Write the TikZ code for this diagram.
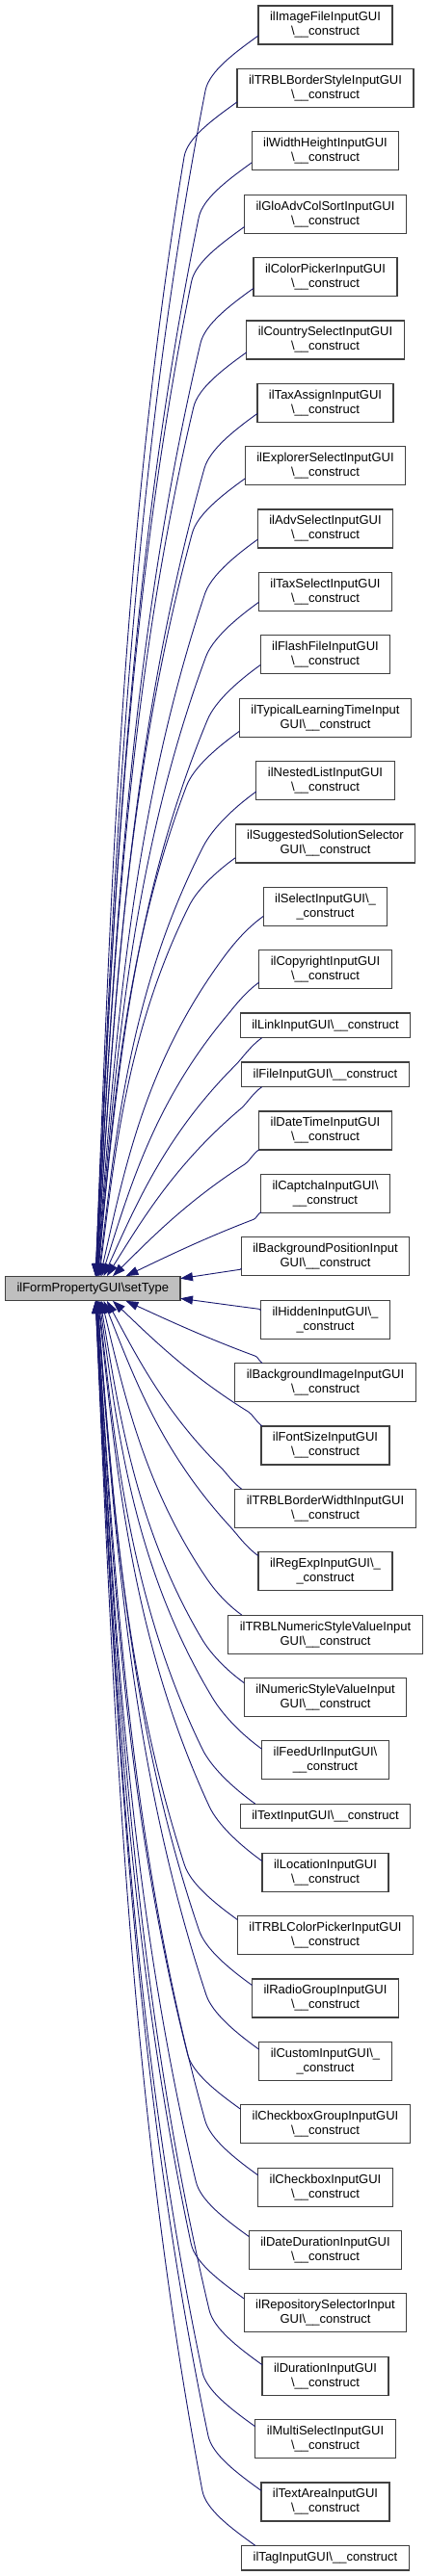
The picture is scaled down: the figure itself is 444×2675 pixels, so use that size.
\documentclass[tikz,border=0pt]{standalone}
\usepackage{fontspec}
\setmainfont{Liberation Sans}
\usetikzlibrary{arrows.meta,calc}
\newcommand\BS{\textbackslash}
\definecolor{edgec}{HTML}{191970}
\definecolor{bordc}{HTML}{404040}
\definecolor{fillc}{HTML}{BFBFBF}
\begin{document}
\begin{tikzpicture}[x=1pt,y=-1pt,
  box/.style={draw=bordc,line width=1.2pt,rectangle,align=center,inner xsep=12pt,inner ysep=0pt,outer sep=0pt,font=\fontsize{13pt}{15pt}\selectfont},
  two/.style={box,minimum height=40pt},
  one/.style={box,minimum height=25.6pt},
  edge/.style={draw=edgec,line width=0.9pt,-{Triangle[length=13pt,width=9pt]}}]
\fill[white] (0,0) rectangle (444,2675);
\useasboundingbox (0,0) rectangle (444,2675);
\node[one,fill=fillc,anchor=west] (s) at (5.5,1338) {ilFormPropertyGUI\BS setType};
\node[two] (n1) at (337.5,26.00) {ilImageFileInputGUI\\\BS\_\_construct};
\node[two] (n2) at (337.5,91.38) {ilTRBLBorderStyleInputGUI\\\BS\_\_construct};
\node[two] (n3) at (337.5,156.76) {ilWidthHeightInputGUI\\\BS\_\_construct};
\node[two] (n4) at (337.5,222.14) {ilGloAdvColSortInputGUI\\\BS\_\_construct};
\node[two] (n5) at (337.5,287.52) {ilColorPickerInputGUI\\\BS\_\_construct};
\node[two] (n6) at (337.5,352.90) {ilCountrySelectInputGUI\\\BS\_\_construct};
\node[two] (n7) at (337.5,418.28) {ilTaxAssignInputGUI\\\BS\_\_construct};
\node[two] (n8) at (337.5,483.66) {ilExplorerSelectInputGUI\\\BS\_\_construct};
\node[two] (n9) at (337.5,549.04) {ilAdvSelectInputGUI\\\BS\_\_construct};
\node[two] (n10) at (337.5,614.42) {ilTaxSelectInputGUI\\\BS\_\_construct};
\node[two] (n11) at (337.5,679.80) {ilFlashFileInputGUI\\\BS\_\_construct};
\node[two] (n12) at (337.5,745.18) {ilTypicalLearningTimeInput\\GUI\BS\_\_construct};
\node[two] (n13) at (337.5,810.56) {ilNestedListInputGUI\\\BS\_\_construct};
\node[two] (n14) at (337.5,875.94) {ilSuggestedSolutionSelector\\GUI\BS\_\_construct};
\node[two] (n15) at (337.5,941.32) {ilSelectInputGUI\BS\_\\\_construct};
\node[two] (n16) at (337.5,1006.70) {ilCopyrightInputGUI\\\BS\_\_construct};
\node[one] (n17) at (337.5,1064.88) {ilLinkInputGUI\BS\_\_construct};
\node[one] (n18) at (337.5,1115.86) {ilFileInputGUI\BS\_\_construct};
\node[two] (n19) at (337.5,1174.04) {ilDateTimeInputGUI\\\BS\_\_construct};
\node[two] (n20) at (337.5,1239.42) {ilCaptchaInputGUI\BS\\\_\_construct};
\node[two] (n21) at (337.5,1304.80) {ilBackgroundPositionInput\\GUI\BS\_\_construct};
\node[two] (n22) at (337.5,1370.18) {ilHiddenInputGUI\BS\_\\\_construct};
\node[two] (n23) at (337.5,1435.56) {ilBackgroundImageInputGUI\\\BS\_\_construct};
\node[two] (n24) at (337.5,1500.94) {ilFontSizeInputGUI\\\BS\_\_construct};
\node[two] (n25) at (337.5,1566.32) {ilTRBLBorderWidthInputGUI\\\BS\_\_construct};
\node[two] (n26) at (337.5,1631.70) {ilRegExpInputGUI\BS\_\\\_construct};
\node[two] (n27) at (337.5,1697.08) {ilTRBLNumericStyleValueInput\\GUI\BS\_\_construct};
\node[two] (n28) at (337.5,1762.46) {ilNumericStyleValueInput\\GUI\BS\_\_construct};
\node[two] (n29) at (337.5,1827.84) {ilFeedUrlInputGUI\BS\\\_\_construct};
\node[one] (n30) at (337.5,1886.02) {ilTextInputGUI\BS\_\_construct};
\node[two] (n31) at (337.5,1944.20) {ilLocationInputGUI\\\BS\_\_construct};
\node[two] (n32) at (337.5,2009.58) {ilTRBLColorPickerInputGUI\\\BS\_\_construct};
\node[two] (n33) at (337.5,2074.96) {ilRadioGroupInputGUI\\\BS\_\_construct};
\node[two] (n34) at (337.5,2140.34) {ilCustomInputGUI\BS\_\\\_construct};
\node[two] (n35) at (337.5,2205.72) {ilCheckboxGroupInputGUI\\\BS\_\_construct};
\node[two] (n36) at (337.5,2271.10) {ilCheckboxInputGUI\\\BS\_\_construct};
\node[two] (n37) at (337.5,2336.48) {ilDateDurationInputGUI\\\BS\_\_construct};
\node[two] (n38) at (337.5,2401.86) {ilRepositorySelectorInput\\GUI\BS\_\_construct};
\node[two] (n39) at (337.5,2467.24) {ilDurationInputGUI\\\BS\_\_construct};
\node[two] (n40) at (337.5,2532.62) {ilMultiSelectInputGUI\\\BS\_\_construct};
\node[two] (n41) at (337.5,2598.00) {ilTextAreaInputGUI\\\BS\_\_construct};
\node[one] (n42) at (337.5,2656.18) {ilTagInputGUI\BS\_\_construct};
\foreach \i in {1,...,42}{
  \ifnum\i<22
    \pgfmathtruncatemacro\myk{22-\i}
    \def\mysg{-1}
    \ifcase\myk\or\def\myang{188.5}\or\def\myang{196}\or\def\myang{196}\or\def\myang{191}\or\def\myang{191}\or\def\myang{191}\else\def\myang{189}\fi
  \else
    \pgfmathtruncatemacro\myk{\i-21}
    \def\mysg{1}
    \ifcase\myk\or\def\myang{172}\or\def\myang{163}\or\def\myang{163}\or\def\myang{167}\or\def\myang{167}\or\def\myang{167}\else\def\myang{170}\fi
  \fi
  \ifnum\myk=1
    \ifnum\i<22
      \coordinate (e\i) at ($(s.north east)+(0pt,-2.5pt)$);
    \else
      \coordinate (e\i) at ($(s.south east)+(0pt,2.5pt)$);
    \fi
  \else
    \pgfmathsetmacro\myxo{92+33*(2/\myk)^1.3}
    \ifnum\i<22
      \coordinate (e\i) at ($(s.north west)+(\myxo pt,0pt)$);
    \else
      \coordinate (e\i) at ($(s.south west)+(\myxo pt,0pt)$);
    \fi
  \fi
  \pgfpointanchor{n\i}{\myang}\pgfgetlastxy{\mysx}{\mysy}
  \pgfpointanchor{e\i}{center}\pgfgetlastxy{\myex}{\myey}
  \pgfmathsetmacro\mydy{abs(\myey-\mysy)}
  \pgfmathsetmacro\myr{min(1,\mydy/500)}
  \pgfmathsetmacro\mypx{\mysx-55*\myr}
  \pgfmathsetmacro\mypy{\mysy+(\mysg)*57*\myr}
  \pgfmathsetmacro\mydyb{abs(\myey-\mypy)}
  \pgfmathsetmacro\mymc{(\mypx-\myex)/\mydyb}
  \pgfmathsetmacro\myrr{min(1,\mydyb/400)}
  \pgfmathsetmacro\mymo{\mymc*(1+1.1*\myrr)}
  \pgfmathsetmacro\mymi{\mymc*(1-0.5*\myrr)}
  \pgfmathsetmacro\myL{\mydyb/3}
  \pgfmathsetmacro\mynn{sqrt(1+\mymo*\mymo)}
  \pgfmathsetmacro\aax{\mysx-25*\myr}
  \pgfmathsetmacro\aay{\mysy+(\mysg)*18*\myr}
  \pgfmathsetmacro\abx{\mypx+20*\myr*\mymo/\mynn}
  \pgfmathsetmacro\aby{\mypy-(\mysg)*20*\myr/\mynn}
  \pgfmathsetmacro\bax{\mypx-\myL*\mymo}
  \pgfmathsetmacro\bay{\mypy+(\mysg)*\myL}
  \pgfmathsetmacro\bbx{\myex+\myL*\mymi}
  \pgfmathsetmacro\bby{\myey-(\mysg)*\myL}
  \draw[edge] (n\i.\myang) .. controls (\aax pt,\aay pt) and (\abx pt,\aby pt) .. (\mypx pt,\mypy pt) .. controls (\bax pt,\bay pt) and (\bbx pt,\bby pt) .. (e\i);
}
\end{tikzpicture}
\end{document}
